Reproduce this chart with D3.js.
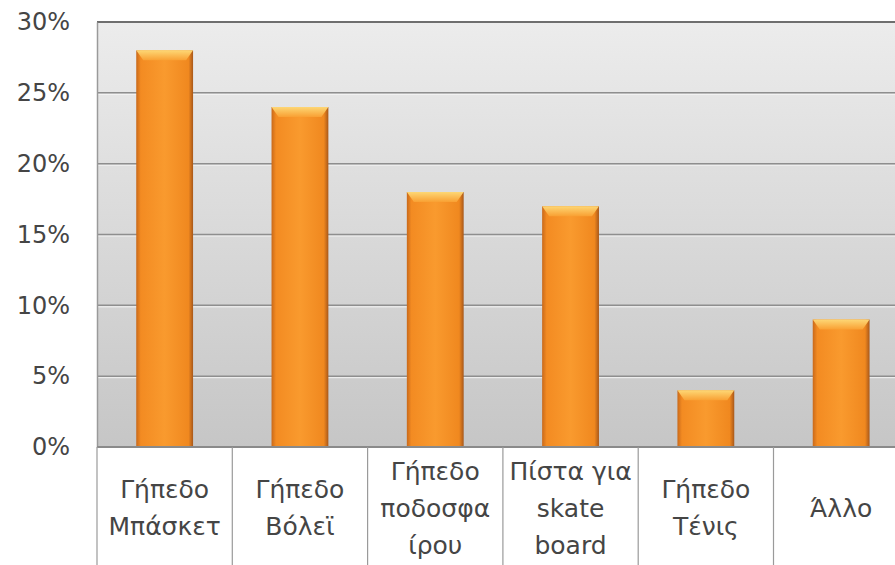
<!DOCTYPE html>
<html>
<head>
<meta charset="utf-8">
<style>
    body { margin: 0; background: #fff; }
    text { font-family: 'DejaVu Sans', 'Noto Sans', sans-serif; fill: #454545; }
</style>
</head>
<body>
<svg id="chart" width="895" height="565"></svg>
<script src="https://cdn.jsdelivr.net/npm/d3@7"></script>
<script>
    // data
    const categories = [
        ["Γήπεδο", "Μπάσκετ"],
        ["Γήπεδο", "Βόλεϊ"],
        ["Γήπεδο", "ποδοσφα", "ίρου"],
        ["Πίστα για", "skate", "board"],
        ["Γήπεδο", "Τένις"],
        ["Άλλο"]
    ];
    const values = [0.28, 0.24, 0.18, 0.17, 0.04, 0.09];
    const yTicks = [0, 0.05, 0.10, 0.15, 0.20, 0.25, 0.30];

    const svg = d3.select("#chart");
    const plotLeft = 97, plotTop = 22, plotBottom = 447;
    const step = 135.3;
    const plotRight = plotLeft + step * categories.length;

    const defs = svg.append("defs");

    let bg = defs.append("linearGradient").attr("id", "bg")
        .attr("x1", 0).attr("y1", 0).attr("x2", 0).attr("y2", 1);
    bg.append("stop").attr("offset", "0%").attr("stop-color", "#ececec");
    bg.append("stop").attr("offset", "100%").attr("stop-color", "#c6c6c6");

    let barGrad = defs.append("linearGradient").attr("id", "barGrad")
        .attr("x1", 0).attr("y1", 0).attr("x2", 1).attr("y2", 0);
    barGrad.append("stop").attr("offset", "0%").attr("stop-color", "#c9691a");
    barGrad.append("stop").attr("offset", "8%").attr("stop-color", "#f38b22");
    barGrad.append("stop").attr("offset", "50%").attr("stop-color", "#f99a2e");
    barGrad.append("stop").attr("offset", "92%").attr("stop-color", "#f0881f");
    barGrad.append("stop").attr("offset", "100%").attr("stop-color", "#a8581a");

    let bevel = defs.append("linearGradient").attr("id", "bevel")
        .attr("x1", 0).attr("y1", 0).attr("x2", 0).attr("y2", 1);
    bevel.append("stop").attr("offset", "0%").attr("stop-color", "#fdd775");
    bevel.append("stop").attr("offset", "100%").attr("stop-color", "#f9a033");

    // Scales
    const x = d3.scaleBand()
        .domain(d3.range(categories.length))
        .range([plotLeft, plotRight])
        .paddingInner(0.58)
        .paddingOuter(0.29);

    const y = d3.scaleLinear()
        .domain([0, 0.30])
        .range([plotBottom, plotTop]);

    // plot background
    svg.append("rect")
        .attr("x", plotLeft).attr("y", plotTop)
        .attr("width", plotRight - plotLeft).attr("height", plotBottom - plotTop)
        .attr("fill", "url(#bg)");

    // gridlines (with a light line below each)
    svg.append("g").selectAll("line")
        .data(yTicks.slice(1, -1))
        .join("line")
        .attr("x1", plotLeft).attr("x2", plotRight)
        .attr("y1", d => y(d) + 1.5).attr("y2", d => y(d) + 1.5)
        .attr("stroke", "#f4f4f4").attr("stroke-width", 1);
    svg.append("g").selectAll("line")
        .data(yTicks.slice(1, -1))
        .join("line")
        .attr("x1", plotLeft).attr("x2", plotRight)
        .attr("y1", d => y(d)).attr("y2", d => y(d))
        .attr("stroke", "#8e8e8e").attr("stroke-width", 1.5);

    // top frame line
    svg.append("line")
        .attr("x1", plotLeft).attr("x2", plotRight)
        .attr("y1", y(0.30)).attr("y2", y(0.30))
        .attr("stroke", "#6e6e6e").attr("stroke-width", 2);

    // bars
    const bars = svg.append("g").selectAll("g")
        .data(values)
        .join("g");

    bars.append("rect")
        .attr("x", (d, i) => x(i))
        .attr("y", d => y(d))
        .attr("width", x.bandwidth())
        .attr("height", d => plotBottom - y(d))
        .attr("fill", "url(#barGrad)");

    bars.append("path")
        .attr("d", (d, i) => {
            let x0 = x(i), x1 = x(i) + x.bandwidth(), t = y(d), h = 10, ins = 7;
            return `M${x0},${t}L${x1},${t}L${x1 - ins},${t + h}L${x0 + ins},${t + h}Z`;
        })
        .attr("fill", "url(#bevel)");

    // y axis
    const yAxis = svg.append("g")
        .attr("transform", `translate(${plotLeft},0)`)
        .call(d3.axisLeft(y)
            .tickValues(yTicks)
            .tickFormat(d3.format(".0%"))
            .tickSize(0)
            .tickPadding(27));
    yAxis.select(".domain").attr("stroke", "#9a9a9a").attr("stroke-width", 1.5);
    yAxis.selectAll(".tick text")
        .attr("font-size", 24)
        .attr("fill", "#454545")
        .style("font-family", "'DejaVu Sans', sans-serif");

    // bottom axis line
    svg.append("line")
        .attr("x1", plotLeft).attr("x2", plotRight)
        .attr("y1", plotBottom).attr("y2", plotBottom)
        .attr("stroke", "#8a8a8a").attr("stroke-width", 2);

    // category separators
    svg.append("g").selectAll("line")
        .data(d3.range(categories.length + 1))
        .join("line")
        .attr("x1", i => i < categories.length ? x(i) - x.step() * x.paddingOuter() : plotRight)
        .attr("x2", i => i < categories.length ? x(i) - x.step() * x.paddingOuter() : plotRight)
        .attr("y1", plotBottom).attr("y2", 565)
        .attr("stroke", "#9a9a9a").attr("stroke-width", 1.2);

    // category labels
    const lineH = 37, mid = 508;
    svg.append("g").selectAll("text")
        .data(categories)
        .join("text")
        .attr("text-anchor", "middle")
        .attr("font-size", 25)
        .each(function (lines, i) {
            let cx = x(i) + x.bandwidth() / 2;
            let y0 = mid - (lines.length - 1) * lineH / 2;
            d3.select(this).selectAll("tspan")
                .data(lines)
                .join("tspan")
                .attr("x", cx)
                .attr("y", (t, j) => y0 + j * lineH)
                .attr("dy", "0.35em")
                .text(t => t);
        });
</script>
</body>
</html>
